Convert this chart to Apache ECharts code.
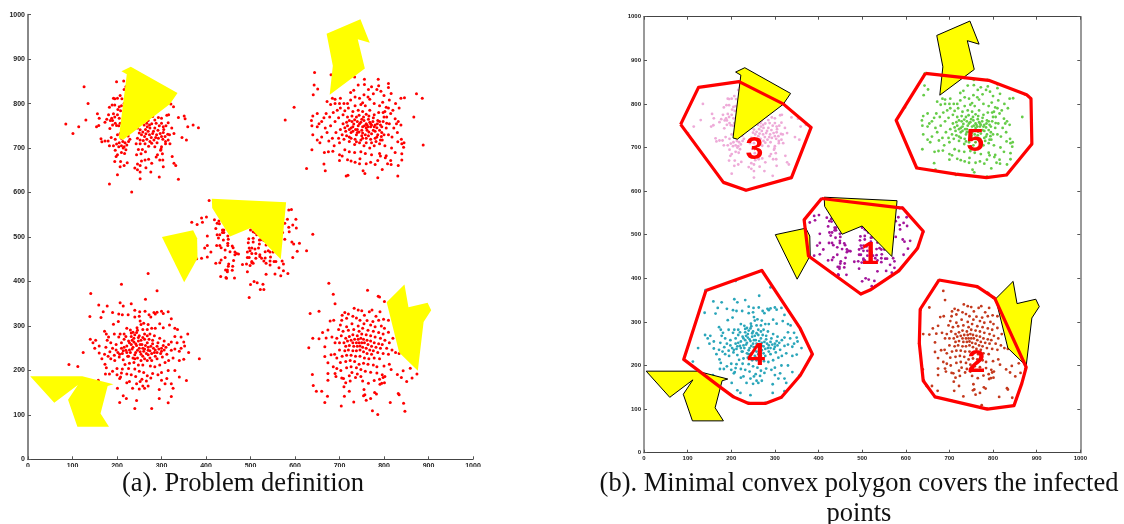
<!DOCTYPE html>
<html><head><meta charset="utf-8">
<script src="https://cdn.jsdelivr.net/npm/echarts@6/dist/echarts.min.js"></script>
<style>html,body{margin:0;padding:0;background:#fff}#c{width:1124px;height:524px}</style>
</head><body><div id="c"></div>
<script>
const tickValues = [0,100,200,300,400,500,600,700,800,900,1000];

const captionA = "(a). Problem definition";
const captionB1 = "(b). Minimal convex polygon covers the infected";
const captionB2 = "points";

const cluster1 = [[407,582],[368,533],[380,528],[390,543],[401,545],[392,533],[419,539],[425,531],[429,536],[430,530],[422,519],[437,516],[440,516],[437,510],[440,510],[431,505],[425,505],[449,502],[428,498],[439,493],[450,495],[403,502],[403,481],[397,475],[424,481],[431,481],[434,476],[449,486],[449,481],[459,480],[461,476],[443,471],[454,467],[465,466],[469,463],[473,462],[465,460],[411,466],[379,451],[390,452],[403,455],[434,448],[443,454],[422,441],[431,442],[462,447],[451,439],[460,434],[450,434],[444,426],[448,426],[448,422],[459,425],[433,411],[445,409],[446,407],[464,408],[482,438],[491,439],[499,436],[503,442],[493,422],[500,393],[508,400],[515,397],[528,394],[522,382],[530,382],[497,364],[500,516],[506,512],[510,510],[514,505],[496,496],[506,497],[506,489],[495,487],[520,493],[523,494],[520,484],[535,482],[530,492],[497,475],[503,475],[510,473],[518,475],[499,469],[493,466],[503,463],[512,463],[521,460],[533,467],[540,469],[544,466],[551,466],[493,454],[497,454],[512,452],[503,445],[506,441],[521,456],[525,452],[533,453],[545,455],[530,446],[535,441],[544,437],[553,445],[557,445],[544,446],[564,431],[571,446],[574,439],[574,424],[584,418],[568,413],[555,417],[535,416],[595,454],[605,468],[626,469],[610,486],[597,484],[593,489],[577,495],[640,506],[603,520],[595,527],[586,522],[577,531],[583,540],[602,540],[586,561],[592,562],[572,510],[587,512]];

const cluster2 = [[676,396],[686,371],[690,350],[763,380],[787,367],[790,365],[801,355],[634,328],[654,333],[631,251],[640,272],[654,271],[639,191],[641,166],[648,153],[660,153],[673,142],[667,128],[704,120],[732,129],[774,109],[786,101],[814,128],[844,126],[847,108],[832,148],[834,145],[874,192],[863,183],[859,205],[851,175],[839,184],[830,191],[843,199],[816,202],[679,311],[706,324],[720,327],[733,340],[742,336],[750,334],[767,332],[773,336],[791,332],[788,313],[799,315],[810,313],[801,295],[756,324],[746,313],[716,317],[705,313],[687,313],[702,302],[698,292],[674,291],[662,285],[683,275],[670,273],[667,253],[681,235],[689,236],[667,231],[674,217],[686,208],[694,204],[703,200],[690,193],[674,193],[674,178],[692,186],[705,183],[709,182],[714,172],[710,163],[724,176],[722,153],[711,142],[752,176],[765,171],[778,177],[791,169],[795,171],[801,172],[755,157],[757,145],[754,143],[760,133],[770,137],[779,150],[783,147],[712,330],[730,322],[738,318],[762,312],[775,310],[782,322],[794,300],[780,298],[770,302],[755,305],[742,300],[728,305],[716,298],[708,288],[720,290],[732,292],[744,288],[752,295],[764,290],[776,288],[788,285],[798,282],[810,286],[820,272],[812,262],[802,268],[792,272],[780,275],[770,278],[760,280],[750,282],[740,278],[730,280],[722,276],[714,272],[704,278],[694,272],[690,262],[700,262],[710,262],[718,266],[726,268],[734,270],[742,270],[748,272],[754,270],[762,268],[770,266],[778,262],[788,260],[796,258],[730,262],[738,262],[744,262],[750,262],[756,262],[764,258],[772,254],[782,252],[792,250],[806,250],[818,246],[826,240],[834,238],[840,252],[714,254],[722,256],[732,254],[740,254],[746,255],[752,252],[760,250],[768,246],[776,244],[786,240],[798,238],[810,236],[700,246],[712,244],[720,246],[730,244],[738,244],[746,246],[754,242],[762,238],[772,236],[694,228],[706,232],[716,234],[726,234],[736,232],[746,232],[756,228],[766,226],[778,228],[790,226],[702,218],[714,220],[724,222],[734,220],[744,214],[754,216],[764,214],[776,212],[784,208],[800,210],[812,214],[716,206],[726,208],[738,206],[748,202],[758,198],[770,196],[784,194],[796,190],[802,186],[728,195],[740,192],[722,188],[736,184],[748,186],[790,180],[798,184]];

const cluster3 = [[85,754],[101,733],[114,748],[130,763],[135,800],[126,838],[156,777],[160,767],[159,751],[154,748],[199,849],[215,851],[216,832],[220,838],[383,746],[371,752],[359,748],[351,772],[353,766],[338,769],[321,799],[327,793],[346,724],[356,718],[233,601],[183,619],[201,640],[338,630],[295,635],[252,631],[276,646],[192,812],[195,811],[201,812],[207,818],[211,811],[216,800],[189,797],[183,792],[195,797],[205,793],[210,795],[202,787],[208,784],[181,775],[192,777],[201,775],[195,770],[188,767],[185,762],[177,765],[173,758],[190,762],[196,756],[190,752],[184,744],[205,767],[207,756],[204,750],[199,751],[207,733],[201,730],[164,721],[166,714],[173,716],[180,716],[187,724],[183,705],[192,705],[199,709],[205,712],[213,715],[204,703],[216,703],[222,707],[226,715],[225,727],[229,720],[214,700],[220,696],[210,690],[217,688],[201,685],[198,681],[195,670],[208,670],[207,658],[216,661],[223,667],[246,745],[252,741],[261,752],[267,756],[273,752],[270,762],[280,771],[285,763],[293,769],[300,767],[312,774],[316,775],[315,757],[310,750],[304,748],[295,750],[285,745],[274,745],[264,742],[255,730],[265,732],[273,730],[280,733],[289,730],[297,733],[304,735],[308,726],[303,720],[293,722],[283,718],[274,715],[267,720],[259,717],[252,718],[246,722],[243,710],[252,710],[263,710],[278,711],[285,703],[300,703],[309,715],[315,718],[319,710],[309,710],[314,731],[323,745],[328,733],[318,730],[248,697],[244,685],[257,697],[254,687],[264,692],[288,680],[291,685],[298,695],[299,698],[302,687],[296,673],[303,673],[324,681],[328,666],[332,661],[304,658],[255,671],[263,673],[271,675],[278,666],[246,664],[252,661],[265,656],[240,655],[246,651],[252,646],[270,738],[282,738],[292,740],[300,726],[287,724],[277,724],[262,726],[250,734],[258,736],[268,748],[278,755],[288,756],[300,756],[196,720],[210,722],[218,712],[210,705],[196,695],[305,742],[290,712],[271,704]];

const cluster4 = [[92,213],[112,209],[124,240],[141,373],[139,321],[159,347],[178,345],[169,332],[164,319],[210,394],[264,360],[270,418],[290,379],[385,226],[359,282],[361,240],[356,177],[158,178],[206,128],[240,114],[278,114],[315,127],[322,141],[295,137],[244,132],[214,143],[221,137],[201,160],[207,352],[214,345],[232,350],[240,335],[251,332],[263,333],[272,325],[283,330],[290,331],[300,333],[304,328],[315,332],[286,327],[276,320],[250,322],[240,320],[252,311],[225,325],[212,325],[204,327],[190,330],[203,310],[192,304],[172,288],[176,282],[181,275],[194,282],[207,282],[222,295],[230,291],[236,286],[245,296],[254,303],[260,306],[270,303],[278,295],[286,295],[296,305],[304,296],[318,302],[322,316],[330,295],[336,292],[344,275],[330,276],[322,264],[335,262],[350,264],[352,255],[344,250],[340,243],[330,248],[322,245],[310,252],[300,243],[290,240],[278,238],[270,245],[260,243],[252,242],[240,235],[230,240],[220,245],[210,250],[202,240],[194,234],[184,242],[175,252],[160,255],[152,268],[140,270],[146,262],[150,250],[160,239],[166,226],[173,214],[176,206],[174,192],[183,192],[200,190],[208,185],[222,192],[232,190],[240,203],[250,198],[260,195],[268,188],[280,193],[292,190],[300,195],[315,200],[330,200],[340,185],[326,160],[308,170],[295,157],[270,165],[262,160],[250,158],[258,165],[235,160],[228,175],[222,172],[206,182],[212,203],[218,213],[228,216],[238,218],[248,212],[258,212],[268,222],[275,210],[285,208],[296,212],[308,218],[316,222],[326,228],[340,222],[350,225],[312,236],[302,230],[290,226],[278,222],[270,235],[258,232],[246,228],[236,228],[224,232],[214,224],[205,230],[195,222],[186,226],[204,275],[216,270],[226,266],[238,272],[250,278],[262,282],[272,270],[284,278],[296,272],[306,266],[316,258],[304,256],[292,262],[280,260],[268,262],[256,258],[244,256],[232,258],[222,255],[210,262],[198,258],[186,262],[178,268],[216,282],[232,276],[244,285],[254,268],[262,270],[274,282],[282,250],[270,252],[258,250],[246,245],[234,248],[222,240],[212,238],[200,204],[190,198],[210,194],[226,204],[242,186],[256,180],[266,176],[276,183],[244,170],[252,175],[300,178],[312,182],[322,170],[286,246],[294,248],[306,246],[228,262],[238,264],[248,266],[240,280],[248,274],[236,252],[250,250],[262,248],[274,244],[284,240],[298,238],[266,238],[254,236],[242,240],[228,246],[216,252],[226,232],[240,226],[254,222],[262,226],[274,228],[286,232],[234,268],[220,276],[258,274],[268,278],[280,268],[246,290],[258,292],[268,292],[232,284],[242,260],[252,258],[264,256],[276,254],[290,254],[300,250],[214,244],[206,236],[198,246],[190,250],[180,232],[172,236]];

const cluster5 = [[598,792],[578,763],[644,870],[681,865],[643,842],[651,833],[641,820],[734,860],[756,855],[787,855],[810,845],[810,836],[816,823],[873,822],[886,812],[838,812],[846,813],[867,770],[888,707],[845,712],[840,710],[844,702],[840,687],[840,673],[832,661],[831,637],[816,663],[796,652],[786,633],[757,643],[753,649],[719,639],[715,637],[668,649],[626,654],[665,664],[638,696],[666,690],[675,692],[685,693],[700,685],[706,682],[700,672],[718,674],[726,671],[735,668],[746,676],[745,665],[760,665],[770,668],[780,663],[790,688],[792,682],[786,672],[805,683],[815,672],[808,665],[803,678],[825,690],[817,700],[831,714],[839,720],[830,735],[822,745],[818,725],[828,755],[838,752],[832,760],[825,766],[815,778],[806,770],[798,780],[805,792],[797,803],[812,808],[800,818],[793,828],[784,832],[788,840],[772,838],[765,832],[756,843],[742,842],[732,830],[725,825],[735,815],[745,812],[755,820],[768,810],[778,800],[790,795],[810,790],[800,770],[790,760],[780,752],[770,748],[760,755],[750,765],[738,770],[728,760],[718,770],[708,775],[702,790],[710,800],[700,800],[690,800],[680,798],[672,805],[695,785],[686,780],[678,770],[670,778],[665,768],[660,760],[650,778],[640,772],[637,762],[650,748],[654,755],[638,750],[640,730],[650,718],[660,725],[656,712],[672,735],[668,745],[680,750],[690,760],[698,768],[708,755],[718,750],[730,748],[742,750],[752,748],[762,740],[772,732],[784,725],[795,735],[805,745],[812,755],[810,730],[796,718],[782,715],[772,712],[760,722],[750,728],[738,730],[726,735],[714,738],[702,742],[692,735],[684,722],[676,716],[688,705],[700,712],[710,720],[722,715],[734,708],[745,712],[755,705],[768,700],[778,705],[790,710],[802,705],[712,696],[722,692],[734,690],[748,692],[758,688],[772,685],[760,776],[752,782],[742,785],[730,782],[720,790],[712,784],[735,795],[748,798],[758,795],[768,785],[778,775],[788,780],[745,755],[755,762],[765,765],[775,760],[785,755],[795,748],[760,745],[770,755],[750,740],[740,742],[728,772],[718,800],[725,808],[702,812],[690,810],[684,812],[776,822],[764,815],[752,802],[740,735],[780,738],[790,740],[770,720],[760,712],[748,718],[735,720],[722,725],[826,800],[834,790],[820,785],[762,752],[768,758],[772,752],[778,748],[764,748],[756,750],[748,758],[740,760],[732,754],[726,745],[736,742],[744,736],[752,734],[758,730],[766,736],[776,740],[784,746],[792,752],[786,762],[776,768],[766,772],[754,770],[744,774],[734,764],[722,762],[716,758],[712,746],[722,742],[730,738],[786,730],[794,726],[800,730],[792,718],[780,722],[765,728],[752,722],[738,714],[726,722],[716,728],[706,730],[698,722],[798,760],[806,756],[802,782]];

const yellowA = [[210,873],[231,883],[336,824],[319,799],[214,719],[204,722],[222,866]];
const yellowB = [[413,586],[580,578],[568,450],[516,503],[500,520],[454,501],[414,565]];
const yellowC = [[301,500],[371,515],[380,497],[381,452],[351,398]];
const yellowD = [[5,187],[122,187],[192,169],[179,165],[163,103],[182,73],[111,73],[90,134],[112,167],[59,127]];
const yellowE = [[671,957],[747,990],[768,937],[741,945],[757,879],[678,820],[685,885]];
const yellowF = [[806,353],[846,393],[855,342],[898,352],[906,335],[889,309],[876,199],[834,240]];

const hull1 = [[407,583],[593,561],[640,508],[627,469],[584,417],[518,373],[497,364],[377,451],[367,534]];
const hull2 = [[676,396],[764,381],[804,354],[876,196],[866,159],[848,108],[787,100],[667,128],[640,165],[631,251],[633,329]];
const hull3 = [[84,753],[125,838],[218,851],[319,800],[383,746],[338,631],[234,602],[182,620]];
const hull4 = [[142,372],[270,418],[358,285],[386,226],[358,177],[315,127],[278,113],[240,113],[205,128],[174,151],[91,214]];
const hull5 = [[645,870],[790,854],[877,821],[887,812],[889,708],[831,637],[785,631],[715,639],[625,653],[578,762]];

const clusterLabels = [[518,454,"1"],[762,206,"2"],[253,695,"3"],[257,221,"4"],[759,712,"5"]];

const clusters = [cluster1,cluster2,cluster3,cluster4,cluster5];
const clusterColors = ["#a3159b","#c4391d","#eeaad8","#2aa6ba","#66cc48"];
const yellows = [yellowA,yellowB,yellowC,yellowD,yellowE,yellowF];
const hulls = [hull1,hull2,hull3,hull4,hull5];

function tickFormatter(v){ return String(v); }
function labelStyle(size){
  return {show:true,formatter:tickFormatter,fontFamily:'Liberation Sans',fontWeight:'bold',fontSize:size,color:'#222',margin:3,showMinLabel:true,showMaxLabel:true,hideOverlap:false};
}
function valueAxis(gridIndex, position, opts) {
  return Object.assign({
    type:'value', gridIndex, position, min:0, max:1000, interval:100,
    splitLine:{show:false},
    axisLine:{show:true,onZero:false,lineStyle:{color:'#444',width:1}},
    axisTick:{show:true,inside:true,length:3,lineStyle:{color:'#555',width:1}},
    axisLabel:labelStyle(7)
  }, opts||{});
}
const hiddenLabel = {show:false};

const option = {
  animation:false,
  backgroundColor:'#fff',
  grid:[
    {left:28,right:651,top:14.7,bottom:64.7},
    {left:644,right:43.7,top:16.7,bottom:71.3}
  ],
  xAxis:[
    valueAxis(0,'bottom'),
    valueAxis(1,'bottom',{axisLabel:labelStyle(6)}),
    valueAxis(1,'top',{axisLabel:hiddenLabel})
  ],
  yAxis:[
    valueAxis(0,'left',{axisLine:{show:true,onZero:false,lineStyle:{color:'#888',width:2}}}),
    valueAxis(1,'left',{axisLine:{show:true,onZero:false,lineStyle:{color:'#777',width:1.5}},axisLabel:labelStyle(6)}),
    valueAxis(1,'right',{axisLine:{show:true,onZero:false,lineStyle:{color:'#777',width:1.5}},axisLabel:hiddenLabel})
  ],
  series:[],
  graphic:[
    {type:'rect',z:50,shape:{x:0,y:467,width:500,height:8},style:{fill:'#fff'}},
    {type:'text',z:60,x:243,y:484,style:{text:captionA,font:'26.5px "Liberation Serif"',fill:'#111',align:'center',verticalAlign:'middle'}},
    {type:'text',z:60,x:859,y:484,style:{text:captionB1,font:'26.5px "Liberation Serif"',fill:'#111',align:'center',verticalAlign:'middle'}},
    {type:'text',z:60,x:859,y:514,style:{text:captionB2,font:'26.5px "Liberation Serif"',fill:'#111',align:'center',verticalAlign:'middle'}}
  ]
};

function yellowSeries(poly, ax, border) {
  return {
    type:'custom', xAxisIndex:ax[0], yAxisIndex:ax[1], z:3, silent:true, clip:false,
    coordinateSystem:'cartesian2d',
    data:poly,
    renderItem:function(params, api){
      if (params.dataIndex !== 0) return null;
      return {type:'polygon',shape:{points:poly.map(p=>api.coord(p))},
        style:{fill:'#ffff00',stroke:border?'#000':null,lineWidth:border?1:0}};
    }
  };
}

clusters.forEach(c=>{
  option.series.push({type:'scatter',xAxisIndex:0,yAxisIndex:0,z:2,data:c,symbolSize:3,silent:true,itemStyle:{color:'#ff0000',opacity:1}});
});
yellows.forEach(y=>option.series.push(yellowSeries(y,[0,0],false)));

clusters.forEach((c,i)=>{
  option.series.push({type:'scatter',xAxisIndex:1,yAxisIndex:1,z:2,data:c,symbolSize:2.8,silent:true,itemStyle:{color:clusterColors[i],opacity:1}});
});
yellows.forEach(y=>option.series.push(yellowSeries(y,[1,1],true)));
hulls.forEach(h=>{
  option.series.push({type:'line',xAxisIndex:1,yAxisIndex:1,z:4,data:h.concat([h[0]]),symbol:'none',silent:true,clip:false,
    lineStyle:{color:'#ff0000',width:3.2,join:'round',opacity:1}});
});
option.series.push({type:'scatter',xAxisIndex:1,yAxisIndex:1,z:5,data:clusterLabels,symbolSize:1,silent:true,
  itemStyle:{color:'#ff0000',opacity:1},
  label:{show:true,position:'inside',formatter:p=>p.value[2],fontFamily:'Liberation Sans',fontWeight:'bold',fontSize:32,color:'#ff0000',opacity:1}});

const chart = echarts.init(document.getElementById('c'),null,{renderer:'canvas'});
chart.setOption(option);
</script></body></html>
